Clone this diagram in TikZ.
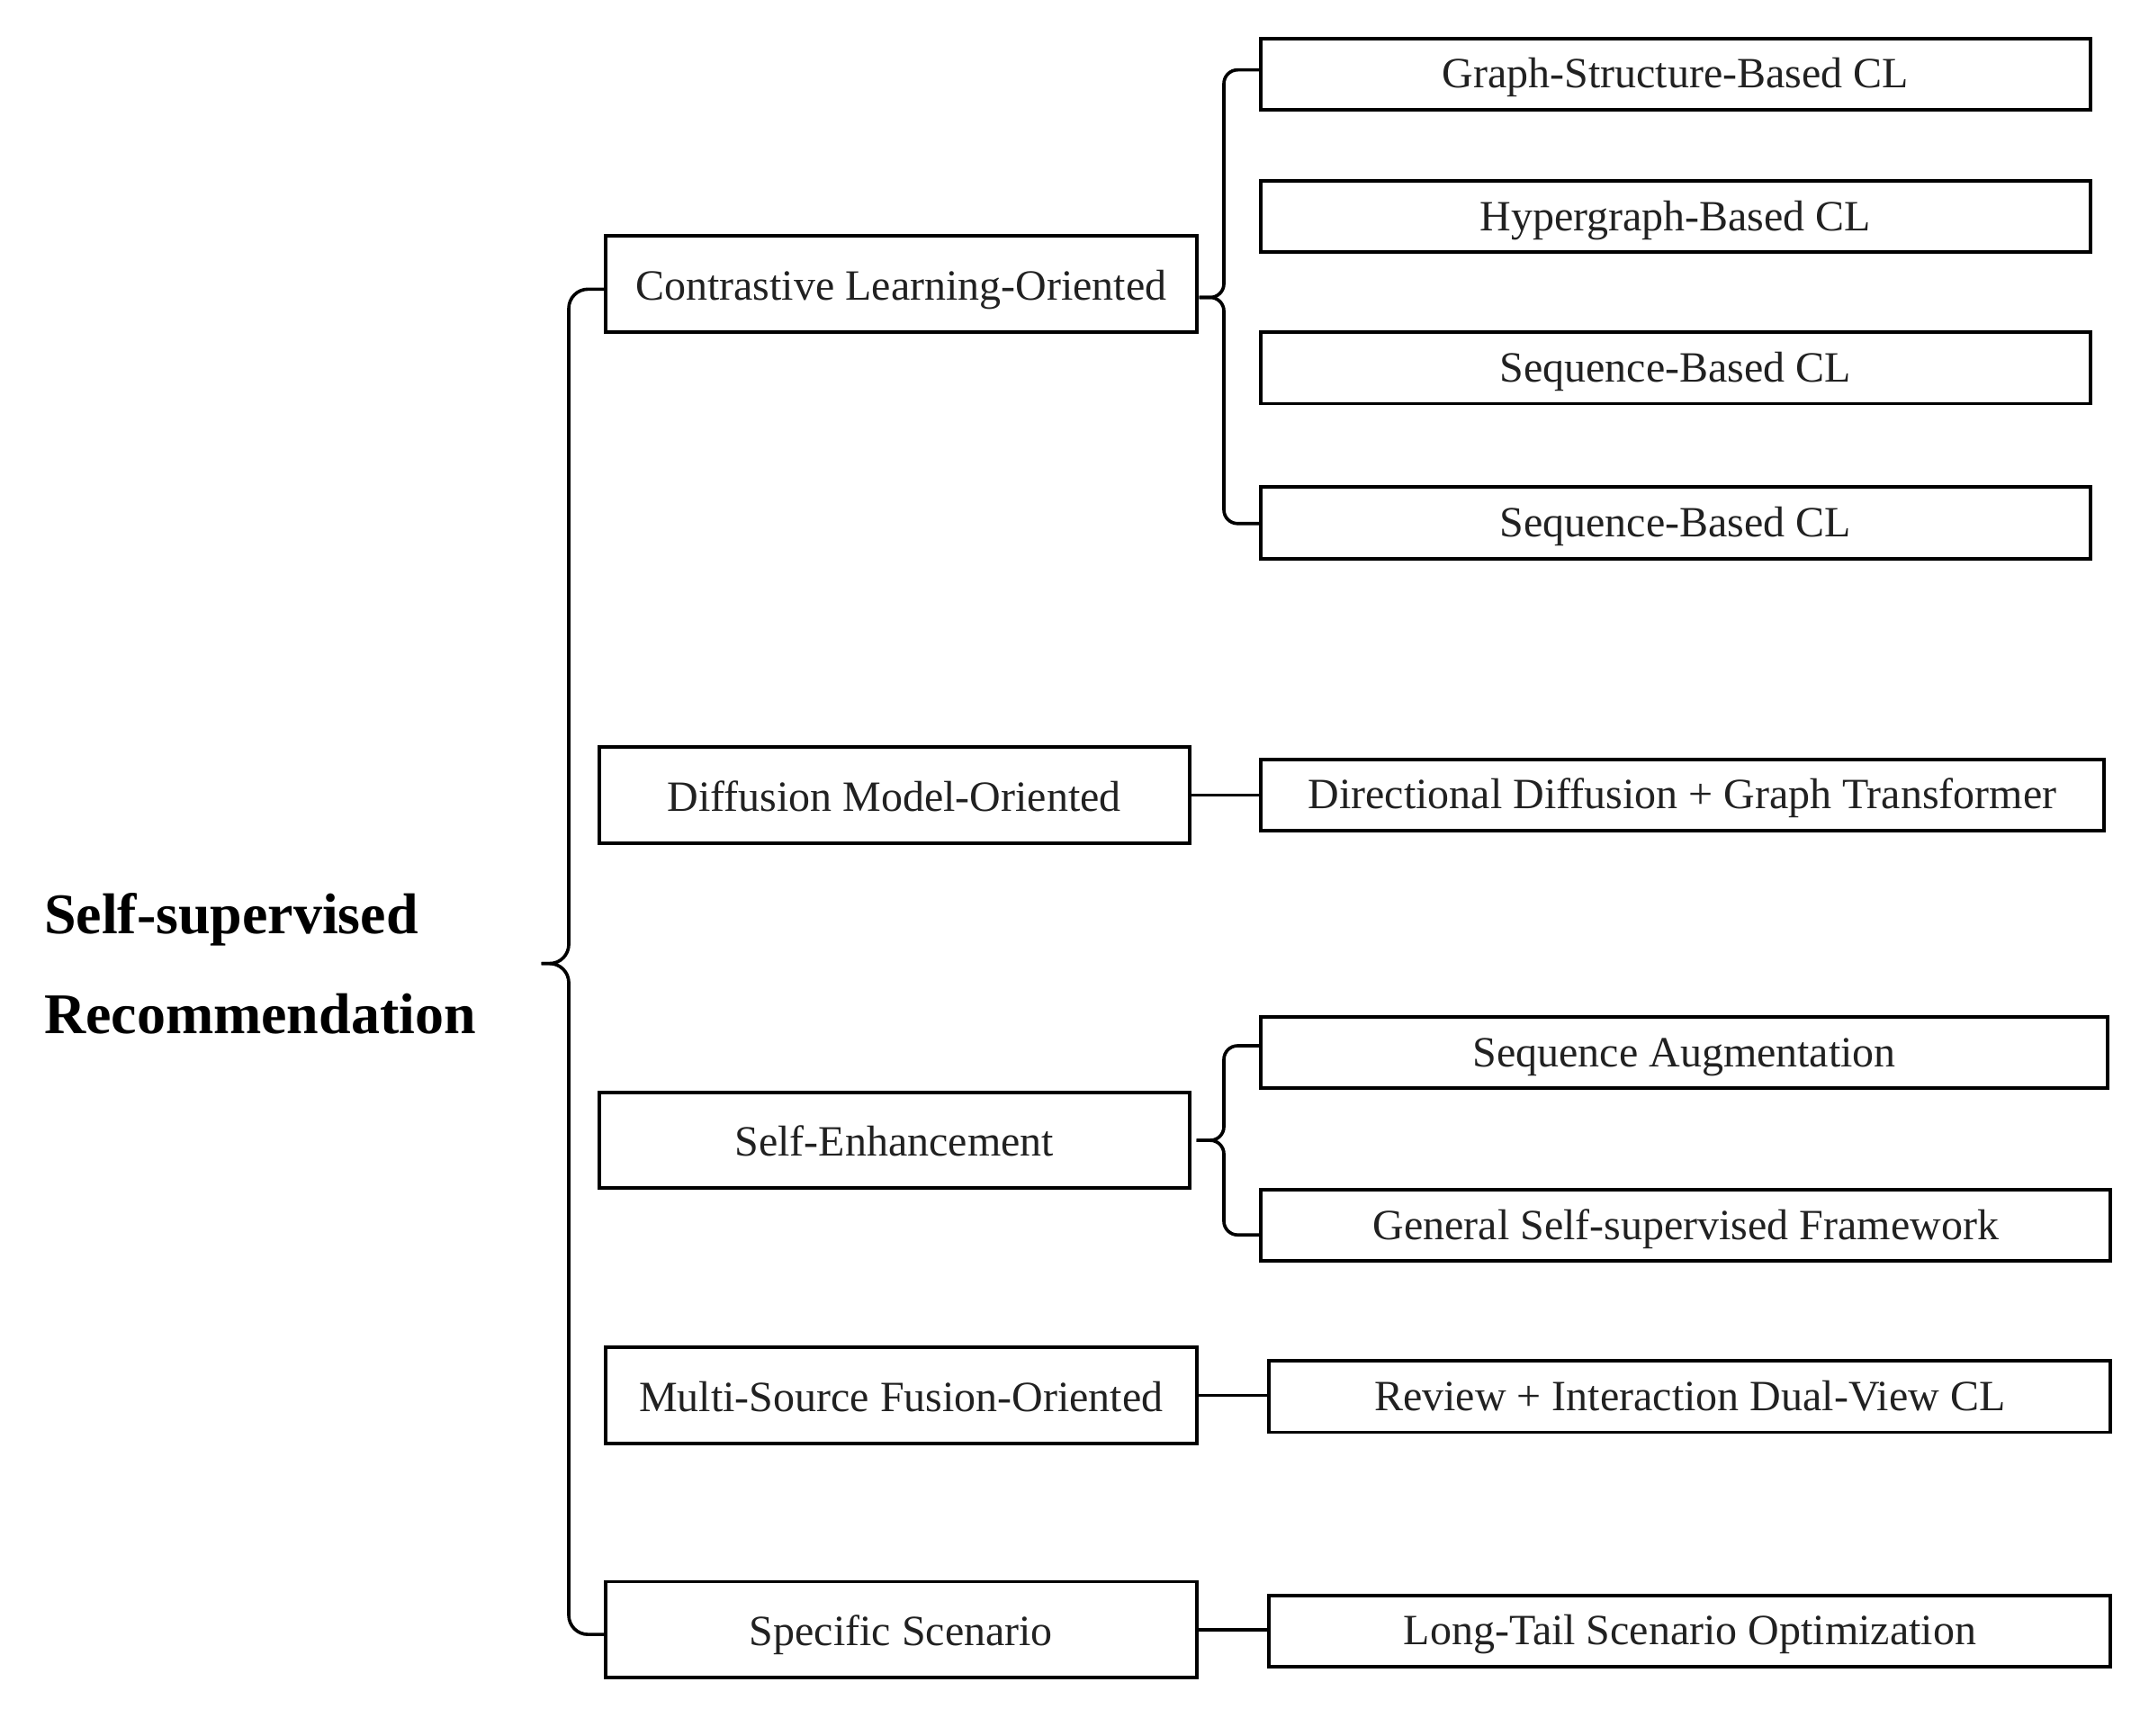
\documentclass[tikz,border=0pt]{standalone}
\usepackage{fontspec}
\setmainfont{Liberation Serif}
\begin{document}
\begin{tikzpicture}[x=1pt,y=-1pt,
  box/.style={draw=black,line width=2.6pt,minimum height=70pt,minimum width=431pt,inner sep=0pt,
    text height=23.4pt,text depth=0pt,
    font=\fontsize{31.5}{36}\selectfont,text=black!87},
  rbox/.style={draw=black,line width=2.6pt,minimum height=52pt,inner sep=0pt,
    text height=20.4pt,text depth=0pt,
    font=\fontsize{31.5}{36}\selectfont,text=black!87},
  conn/.style={draw=black,line width=2.4pt}]
\useasboundingbox (0,0) rectangle (1568,1266);
\node[anchor=west,inner sep=0pt,align=left,font=\fontsize{42}{73}\selectfont\bfseries] (title) at (32,703)
  {Self-supervised\\Recommendation};
% main category boxes
\node[box] (CL) at (657.5,207) {Contrastive Learning-Oriented};
\node[box] (DM) at (652.5,580) {Diffusion Model-Oriented};
\node[box] (SE) at (652.5,832) {Self-Enhancement};
\node[box] (MS) at (657.5,1018) {Multi-Source Fusion-Oriented};
\node[box] (SS) at (657.5,1189) {Specific Scenario};
% right boxes
\node[rbox,minimum width=605pt] (GS) at (1222.5,54) {Graph-Structure-Based CL};
\node[rbox,minimum width=605pt] (HG) at (1222.5,158) {Hypergraph-Based CL};
\node[rbox,minimum width=605pt] (SQa) at (1222.5,268.5) {Sequence-Based CL};
\node[rbox,minimum width=605pt] (SQb) at (1222.5,381.5) {Sequence-Based CL};
\node[rbox,minimum width=615pt] (DD) at (1227.5,580) {Directional Diffusion + Graph Transformer};
\node[rbox,minimum width=618pt] (SA) at (1229,768) {Sequence Augmentation};
\node[rbox,minimum width=620pt] (GF) at (1230,894) {General Self-supervised Framework};
\node[rbox,minimum width=614pt] (RI) at (1233,1019) {Review + Interaction Dual-View CL};
\node[rbox,minimum width=614pt] (LT) at (1233,1190) {Long-Tail Scenario Optimization};
% brace tips
\coordinate (mt) at (395,703);
\coordinate (ct) at (875,217);
\coordinate (st) at (873,832);
% main brace
\draw[conn,rounded corners=14pt] ([yshift=-4pt]CL.west) -| (415,703) -- (mt);
\draw[conn,rounded corners=14pt] (mt) -- (415,703) |- ([yshift=-3.5pt]SS.west);
% CL brace
\draw[conn,rounded corners=10pt] ([yshift=3pt]GS.west) -| (893,217) -- (ct);
\draw[conn,rounded corners=10pt] (ct) -- (893,217) |- ([yshift=-0.5pt]SQb.west);
% SE brace
\draw[conn,rounded corners=10pt] ([yshift=5pt]SA.west) -| (893,832) -- (st);
\draw[conn,rounded corners=10pt] (st) -- (893,832) |- ([yshift=-7pt]GF.west);
% straight connectors
\draw[conn] (DM.east) -- (DD.west);
\draw[conn] (MS.east) -- (MS.east -| RI.west);
\draw[conn] (SS.east) -- (SS.east -| LT.west);
\end{tikzpicture}
\end{document}
